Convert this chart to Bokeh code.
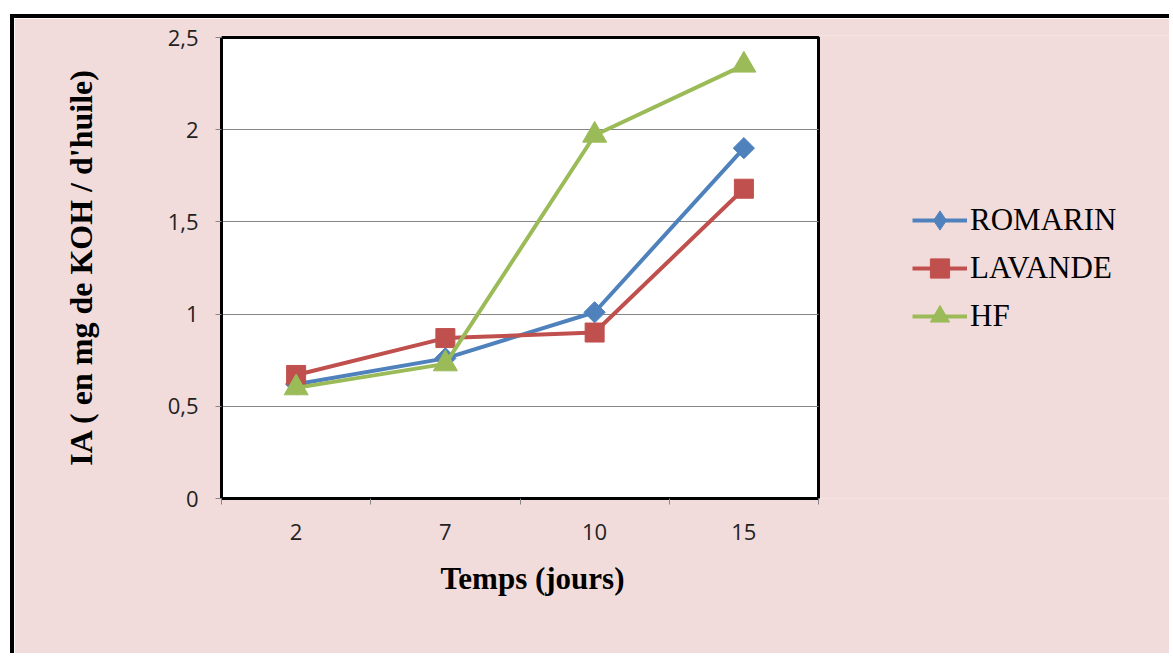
from bokeh.plotting import figure
from bokeh.models import (Range1d, FixedTicker, Legend, LegendItem,
                          CustomJSTickFormatter, BoxAnnotation, Title)
from bokeh.embed import file_html
from bokeh.resources import INLINE
import numpy as np

# ---- data ----
days = ["2", "7", "10", "15"]
romarin = [0.62, 0.76, 1.01, 1.90]
lavande = [0.67, 0.87, 0.90, 1.68]
hf = [0.60, 0.73, 1.97, 2.35]
y_ticks = [0, 0.5, 1, 1.5, 2, 2.5]

series_names = ["ROMARIN", "LAVANDE", "HF"]
series_values = [romarin, lavande, hf]
colors = ["#4F81BD", "#C0504D", "#9BBB59"]
markers = ["square", "square", "triangle"]
legend_markers = ["diamond", "square", "triangle"]
angles = [np.pi / 4, 0, 0]
sizes = [15, 19, 24]

xpos = list(range(1, len(days) + 1))

PINK = "#F2DCDB"
GRID = "#868686"

# layout (pixels)
W, H = 1159, 639
LEFT, TOP, BOTTOM = 207, 17, 159
PLOT_W, PLOT_H = 597, 461          # white plot area
frame_w = W - LEFT
frame_h = H - TOP - BOTTOM
x0, x1 = 0.5, len(days) + 0.5
x_end = x0 + (x1 - x0) * frame_w / PLOT_W
y0, y1 = y_ticks[0], y_ticks[-1]
y_end = y0 + (y1 - y0) * frame_h / PLOT_H

p = figure(width=W, height=H,
           x_range=Range1d(x0, x_end), y_range=Range1d(y0, y_end),
           output_backend="svg", toolbar_location=None,
           min_border_left=LEFT, min_border_right=0,
           min_border_top=TOP, min_border_bottom=BOTTOM,
           background_fill_color=PINK, border_fill_color=PINK)
p.margin = (14, 0, 0, 10)
p.styles = {"border-top": "4px solid black", "border-left": "4px solid black"}
p.outline_line_color = None

# white plot area with black border
p.add_layout(BoxAnnotation(left=x0, right=x1, bottom=y0, top=y1,
                           fill_color="white", fill_alpha=1,
                           line_color="black", line_alpha=1, line_width=3,
                           level="image"))

# y axis
p.yaxis.bounds = (y0, y1)
p.yaxis.ticker = FixedTicker(ticks=y_ticks)
p.yaxis.formatter = CustomJSTickFormatter(code="return tick.toString().replace('.', ',')")
p.yaxis.axis_line_color = "black"
p.yaxis.axis_line_width = 3
p.yaxis.major_tick_in = 0
p.yaxis.major_tick_out = 6
p.yaxis.major_tick_line_color = GRID
p.yaxis.minor_tick_line_color = None
p.yaxis.major_label_standoff = 17
p.yaxis.major_label_text_font = "Open Sans"
p.yaxis.major_label_text_font_size = "22px"
p.yaxis.major_label_text_color = "#222222"
p.yaxis.axis_label = "IA ( en mg de KOH / d'huile)"
p.yaxis.axis_label_text_font = "Liberation Serif"
p.yaxis.axis_label_text_font_style = "bold"
p.yaxis.axis_label_text_font_size = "32px"
p.yaxis.axis_label_text_color = "black"
p.yaxis.axis_label_standoff = 66

# x axis
p.xaxis.bounds = (x0, x1)
p.xaxis.ticker = FixedTicker(ticks=xpos, minor_ticks=[x - 0.5 for x in xpos] + [xpos[-1] + 0.5])
p.xaxis.major_label_overrides = {x: d for x, d in zip(xpos, days)}
p.xaxis.axis_line_color = "black"
p.xaxis.axis_line_width = 3
p.xaxis.major_tick_in = 0
p.xaxis.major_tick_out = 0
p.xaxis.minor_tick_in = 0
p.xaxis.minor_tick_out = 6
p.xaxis.minor_tick_line_color = GRID
p.xaxis.major_label_standoff = 19
p.xaxis.major_label_text_font = "Open Sans"
p.xaxis.major_label_text_font_size = "22px"
p.xaxis.major_label_text_color = "#222222"

# x axis title, centred under the plot area
p.add_layout(Title(text="Temps (jours)", align="left", offset=219, standoff=32,
                   text_font="Liberation Serif", text_font_style="bold",
                   text_font_size="31px", text_color="black"), "below")

p.xgrid.grid_line_color = None
p.ygrid.ticker = FixedTicker(ticks=y_ticks[1:-1])
p.ygrid.cross_bounds = (x0, x1)
p.ygrid.grid_line_color = GRID
p.ygrid.grid_line_width = 1

items = []
for name, vals, c, m, lm, a, s in zip(series_names, series_values, colors, markers,
                                      legend_markers, angles, sizes):
    ln = p.line(xpos, vals, line_color=c, line_width=4)
    p.scatter(xpos, vals, marker=m, size=s, angle=a,
              fill_color=c, line_color=c, line_width=1)
    # hidden renderer used only for the legend key shape
    key = p.scatter(xpos, vals, marker=lm, fill_color=c, line_color=c, line_width=1,
                    visible=False)
    items.append(LegendItem(label=name, renderers=[ln, key]))

legend = Legend(items=items, location=(691, 158))
legend.background_fill_alpha = 0
legend.border_line_color = None
legend.padding = 0
legend.margin = 0
legend.spacing = 0
legend.glyph_width = 55
legend.glyph_height = 48
legend.label_height = 48
legend.label_standoff = 3
legend.label_text_font = "Liberation Serif"
legend.label_text_font_size = "31px"
legend.label_text_color = "black"
p.add_layout(legend, "center")

open("out.html", "w").write(file_html(p, INLINE))
